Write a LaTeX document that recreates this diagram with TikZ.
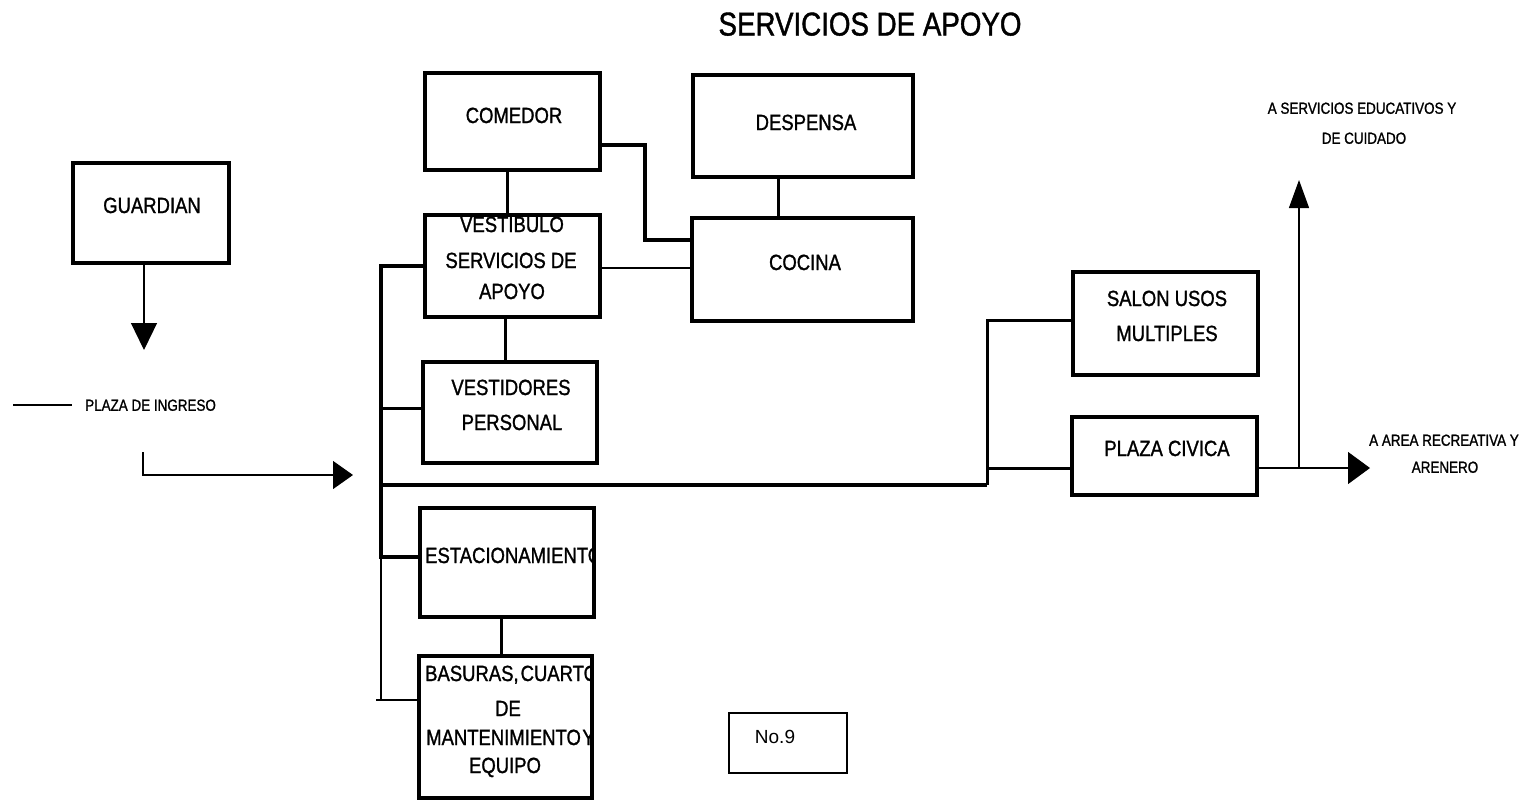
\documentclass[tikz,border=0pt]{standalone}
\usepackage{fontspec}
\newfontfamily\cf[FakeStretch=0.84,FakeBold=1.2]{Liberation Sans}
\newfontfamily\nf{Liberation Sans}
\usetikzlibrary{arrows.meta}
\begin{document}
\begin{tikzpicture}[x=1pt,y=-1pt,
  box/.style={draw, line width=3.6pt, inner sep=0pt, outer sep=0pt},
  lbl/.style={font=\cf\fontsize{22}{26}\selectfont, inner sep=0pt, text height=16pt, text depth=0pt},
  small/.style={font=\cf\fontsize{16}{19}\selectfont, inner sep=0pt, text height=11.5pt, text depth=0pt},
  heavy/.style={line width=3.6pt},
  med/.style={line width=3pt},
  fine/.style={line width=1.2pt},
]
\useasboundingbox (0,0) rectangle (1532,801);

% title
\node[font=\cf\fontsize{33}{38}\selectfont, inner sep=0pt, text height=23pt, text depth=0pt] (title) at (870,24) {SERVICIOS DE APOYO};

% boxes
\node[box, minimum width=156pt, minimum height=100pt] (guard) at (151,213) {};
\node[box, minimum width=175pt, minimum height=97pt] (comedor) at (512.5,121.5) {};
\node[box, minimum width=220pt, minimum height=102pt] (despensa) at (803,126) {};
\node[box, minimum width=175pt, minimum height=102pt] (vest) at (512.5,266) {};
\node[box, minimum width=221pt, minimum height=103pt] (cocina) at (802.5,269.5) {};
\node[box, minimum width=174pt, minimum height=101pt] (vestid) at (510,412.5) {};
\node[box, minimum width=174pt, minimum height=109pt] (estac) at (507,562.5) {};
\node[box, minimum width=173pt, minimum height=142pt] (basuras) at (505.5,727) {};
\node[box, minimum width=185pt, minimum height=103pt] (salon) at (1165.5,323.5) {};
\node[box, minimum width=185pt, minimum height=78pt] (plaza) at (1164.5,456) {};
\node[draw, line width=1.2pt, minimum width=118pt, minimum height=60pt, inner sep=0pt] (no9) at (788,743) {};

% box texts
\node[lbl] (guard-t) at (152,205) {GUARDIAN};
\node[lbl] (comedor-t) at (514,115) {COMEDOR};
\node[lbl] (despensa-t) at (806,122) {DESPENSA};
\begin{scope}
  \clip ([yshift=-1.8pt]vest.north west) rectangle (vest.south east);
  \node[lbl] (vest-t1) at (512,224) {VESTIBULO};
\end{scope}
\node[lbl] (vest-t2) at (511,260) {SERVICIOS DE};
\node[lbl] (vest-t3) at (512,291) {APOYO};
\node[lbl] (cocina-t) at (805,262) {COCINA};
\node[lbl] (vestid-t1) at (511,387) {VESTIDORES};
\node[lbl] (vestid-t2) at (512,422) {PERSONAL};
\begin{scope}
  \clip (estac.north west) rectangle ([xshift=-1.8pt]estac.south east);
  \node[lbl, anchor=west] (estac-t) at (425,555) {ESTACIONAMIENTO};
\end{scope}
\begin{scope}
  \clip (basuras.north west) rectangle ([xshift=-1.8pt]basuras.south east);
  \node[lbl, anchor=west] (bas-t1) at (425,673) {BASURAS,\hspace{2pt}CUARTO};
  \node[lbl, anchor=west] (bas-t3) at (426,737) {MANTENIMIENTO\hspace{1.5pt}Y};
\end{scope}
\node[lbl] (bas-t2) at (508,708) {DE};
\node[lbl] (bas-t4) at (505,765) {EQUIPO};
\node[lbl] (salon-t1) at (1167,298) {SALON USOS};
\node[lbl] (salon-t2) at (1167,333) {MULTIPLES};
\node[lbl] (plaza-t) at (1167,448) {PLAZA CIVICA};
\node[font=\nf\fontsize{19}{22}\selectfont, inner sep=0pt, text height=13.5pt, text depth=0pt] (no9-t) at (775,737) {No.9};

% free labels
\node[small, anchor=west] (ingreso) at (85,405) {PLAZA DE INGRESO};
\coordinate (dash1) at (13,405);
\draw[fine] (dash1) -- (72,405) coordinate (dash2);
\node[small] (edu1) at (1362,108) {A SERVICIOS EDUCATIVOS Y};
\node[small] (edu2) at (1364,138) {DE CUIDADO};
\node[small] (rec1) at (1444,440) {A AREA RECREATIVA Y};
\node[small] (rec2) at (1445,467) {ARENERO};

% guardian arrow
\coordinate (ga) at (144,350);
\draw[fine, -{Triangle[length=27pt,width=26pt]}] (guard.south -| ga) -- (ga);

% entrance arrow
\coordinate (la) at (143,452);
\coordinate (lb) at (353,475);
\draw[fine, -{Triangle[length=20pt,width=28pt]}] (la) |- (lb);

% trunk
\coordinate (tr1) at (381,557);
\coordinate (tr2) at (381,700);
\coordinate (tr3) at (376,700);
\coordinate (tv) at (381,408);
\coordinate (th) at (381,485);
\draw[heavy] (vest.west) -| (tr1) -- (tr1 -| estac.west);
\draw[line width=2.2pt] (tr1) -- (tr2);
\draw[line width=1.5pt] (tr3) -- (tr3 -| basuras.west);
\draw[med] (tv) -- (tv -| vestid.west);

% main horizontal and riser
\coordinate (rk) at (987,485);
\coordinate (rs) at (987,320);
\coordinate (rp) at (987,468);
\draw[heavy] (th) -- (rk);
\draw[med] (rk) -- (rs) -- (rs -| salon.west);
\draw[med] (rp) -- (rp -| plaza.west);

% right arrows
\coordinate (ar) at (1370,468);
\coordinate (au) at (1299,180);
\draw[fine, -{Triangle[length=22pt,width=32pt]}] (rp -| plaza.east) -- (ar);
\draw[fine, -{Triangle[length=28pt,width=20pt]}] (au |- ar) -- (au);

% vertical connectors
\coordinate (c1) at (507,0);
\coordinate (c2) at (505,0);
\coordinate (c3) at (501,0);
\coordinate (c4) at (778,0);
\draw[med] (comedor.south -| c1) -- (vest.north -| c1);
\draw[med] (vest.south -| c2) -- (vestid.north -| c2);
\draw[med] (estac.south -| c3) -- (basuras.north -| c3);
\draw[med] (despensa.south -| c4) -- (cocina.north -| c4);

% comedor - cocina
\coordinate (k1) at (645,145);
\coordinate (k2) at (645,240);
\coordinate (k3) at (0,268);
\draw[heavy] (comedor.east |- k1) -- (k1) -- (k2) -- (k2 -| cocina.west);
\draw[fine] (vest.east |- k3) -- (cocina.west |- k3);
\end{tikzpicture}
\end{document}
